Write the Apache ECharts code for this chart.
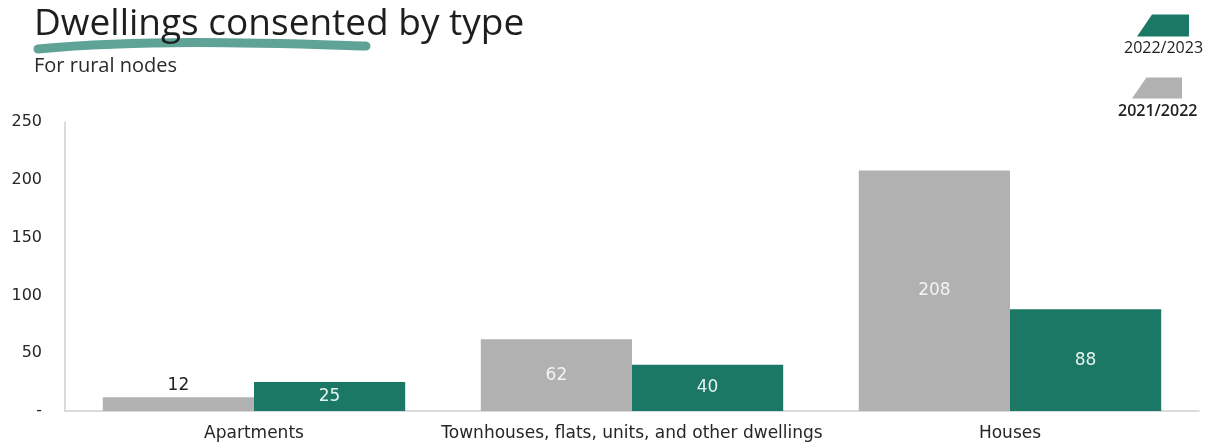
<!DOCTYPE html>
<html>
<head>
<meta charset="utf-8">
<script src="https://cdn.jsdelivr.net/npm/echarts@6/dist/echarts.min.js"></script>
<style>
    html, body { margin: 0; padding: 0; background: #fff; }
    #chart { width: 1205px; height: 442px; }
</style>
</head>
<body>
<div id="chart"></div>
<script>
// categories and values
var categories = ['Apartments', 'Townhouses, flats, units, and other dwellings', 'Houses'];
var seriesNames = ['2021/2022', '2022/2023'];
var values2122 = [12, 62, 208];
var values2223 = [25, 40, 88];
var yTicks = [0, 50, 100, 150, 200, 250];

var GREY = '#b1b1b1';
var GREEN = '#1b7865';
var FONT = '"Open Sans", "Noto Sans", sans-serif';
var NUM_FONT = '"DejaVu Sans", sans-serif';

var chart = echarts.init(document.getElementById('chart'));

var legendShape = 'path://M0,22 L15,0 L52,0 L52,22 Z';

chart.setOption({
    animation: false,
    textStyle: { fontFamily: FONT },
    title: {
        text: 'Dwellings consented by type',
        subtext: 'For rural nodes',
        left: 29,
        top: 1,
        itemGap: 13,
        textStyle: { fontSize: 37, fontWeight: 'normal', color: '#1e1e1e', fontFamily: FONT },
        subtextStyle: { fontSize: 20, color: '#2a2a2a', fontFamily: FONT }
    },
    legend: [
        {
            data: [seriesNames[1]],
            left: 1137, top: 14, padding: 0,
            itemWidth: 52, itemHeight: 23,
            icon: legendShape,
            formatter: function () { return ''; },
            selectedMode: false
        },
        {
            data: [seriesNames[0]],
            left: 1132, top: 77, padding: 0,
            itemWidth: 50, itemHeight: 22,
            icon: legendShape,
            formatter: function () { return ''; },
            selectedMode: false
        }
    ],
    graphic: [
        {
            type: 'bezierCurve',
            z: -1,
            shape: { x1: 38, y1: 49, x2: 366, y2: 46, cpx1: 150, cpy1: 39, cpx2: 260, cpy2: 43 },
            style: { stroke: '#5fa396', lineWidth: 9, lineCap: 'round', fill: null }
        },
        {
            type: 'text', left: 1124, top: 40,
            style: { text: seriesNames[1], fill: '#222', font: '16px ' + FONT }
        },
        {
            type: 'text', left: 1118, top: 103,
            style: { text: seriesNames[0], fill: '#222', font: '600 16px ' + FONT }
        }
    ],
    grid: { left: 65, right: 6, top: 122, bottom: 30, containLabel: false },
    xAxis: {
        type: 'category',
        data: categories,
        axisLine: { lineStyle: { color: '#cfcfcf', width: 1.5 } },
        axisTick: { show: false },
        axisLabel: { interval: 0, fontSize: 17, color: '#262626', margin: 14, fontFamily: NUM_FONT }
    },
    yAxis: {
        type: 'value',
        min: yTicks[0],
        max: yTicks[yTicks.length - 1],
        interval: yTicks[1] - yTicks[0],
        axisLine: { show: true, lineStyle: { color: '#cfcfcf', width: 1.5 } },
        axisTick: { show: false },
        splitLine: { show: false },
        axisLabel: {
            fontSize: 16, color: '#262626', margin: 23, fontFamily: NUM_FONT,
            formatter: function (v) { return v === 0 ? '-' : v; }
        }
    },
    series: [
        {
            name: seriesNames[0],
            type: 'bar',
            data: values2122.map(function (v) {
                return {
                    value: v,
                    label: v < 20
                        ? { position: 'top', color: '#222', distance: 3 }
                        : { position: 'inside', color: '#f4f4f4' }
                };
            }),
            itemStyle: { color: GREY },
            barGap: '0%',
            barCategoryGap: '20%',
            label: { show: true, fontSize: 17, fontFamily: NUM_FONT }
        },
        {
            name: seriesNames[1],
            type: 'bar',
            data: values2223,
            itemStyle: { color: GREEN },
            label: { show: true, position: 'inside', color: '#e6f2ef', fontSize: 17, fontFamily: NUM_FONT }
        }
    ]
});
</script>
</body>
</html>
